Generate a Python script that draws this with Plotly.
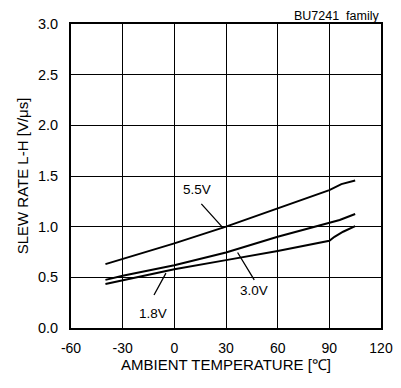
import plotly.graph_objects as go

temp = [-40, -30, 0, 30, 60, 90, 97, 105]
sr_55 = [0.63, 0.68, 0.835, 1.0, 1.18, 1.36, 1.42, 1.455]
temp_30 = [-40, -30, 0, 30, 60, 90, 96, 105]
sr_30 = [0.475, 0.515, 0.62, 0.745, 0.90, 1.04, 1.066, 1.125]
temp_18 = [-40, -30, 0, 30, 60, 90, 93, 98, 105]
sr_18 = [0.435, 0.47, 0.58, 0.67, 0.76, 0.86, 0.90, 0.95, 1.005]

x_ticks = [-60, -30, 0, 30, 60, 90, 120]
y_ticks = [0.0, 0.5, 1.0, 1.5, 2.0, 2.5, 3.0]

# label text, label position, leader line start, leader line end
labels = [
    ("5.5V", 13.0, 1.37, 14.9, 1.24, 28.4, 0.985),
    ("3.0V", 46.3, 0.37, 36.2, 0.76, 46.4, 0.475),
    ("1.8V", -12.2, 0.14, -4.4, 0.556, -11.8, 0.326),
]

FONT = "Liberation Sans, Arial, sans-serif"

fig = go.Figure()
for xs, ys in [(temp, sr_55), (temp_30, sr_30), (temp_18, sr_18)]:
    fig.add_trace(go.Scatter(x=xs, y=ys, mode="lines",
                             line=dict(color="black", width=2),
                             showlegend=False, hoverinfo="skip"))

for text, lx, ly, x0, y0, x1, y1 in labels:
    fig.add_annotation(x=lx, y=ly, text=text, showarrow=False,
                       font=dict(family=FONT, size=13.5, color="black"))
    fig.add_annotation(x=x1, y=y1, ax=x0, ay=y0, xref="x", yref="y",
                       axref="x", ayref="y", text="", showarrow=True,
                       arrowhead=0, arrowwidth=1.3, arrowcolor="black")

fig.add_annotation(x=1.0, y=1.0, xref="paper", yref="paper", yshift=0,
                   text="BU7241&nbsp;&nbsp;family", showarrow=False,
                   xanchor="right", yanchor="bottom", borderpad=0,
                   font=dict(family=FONT, size=12.5, color="black"))

axis_common = dict(showline=True, linecolor="black", linewidth=2, mirror=True,
                   showgrid=True, gridcolor="black", gridwidth=1,
                   zeroline=False, ticks="", automargin=False)

fig.update_xaxes(range=[-60, 120], tickvals=x_ticks,
                 ticktext=[str(v) for v in x_ticks],
                 ticklabelstandoff=6,
                 tickfont=dict(family=FONT, size=14, color="black"),
                 title=dict(text="AMBIENT TEMPERATURE [℃]", standoff=4,
                            font=dict(family=FONT, size=15, color="black")),
                 **axis_common)
fig.update_yaxes(range=[0, 3], tickvals=y_ticks,
                 ticktext=[f"{v:.1f}" for v in y_ticks],
                 ticklabelstandoff=8,
                 tickfont=dict(family=FONT, size=14.5, color="black"),
                 title=dict(text="SLEW RATE L-H [V/μs]", standoff=6,
                            font=dict(family=FONT, size=15, color="black")),
                 **axis_common)

# page body adds an 8px offset, so the figure is sized/margined to compensate
fig.update_layout(width=393, height=380,
                  margin=dict(l=63, r=20, t=16, b=60),
                  plot_bgcolor="white", paper_bgcolor="white",
                  font=dict(family=FONT, color="black"))

fig.write_html("out.html")
